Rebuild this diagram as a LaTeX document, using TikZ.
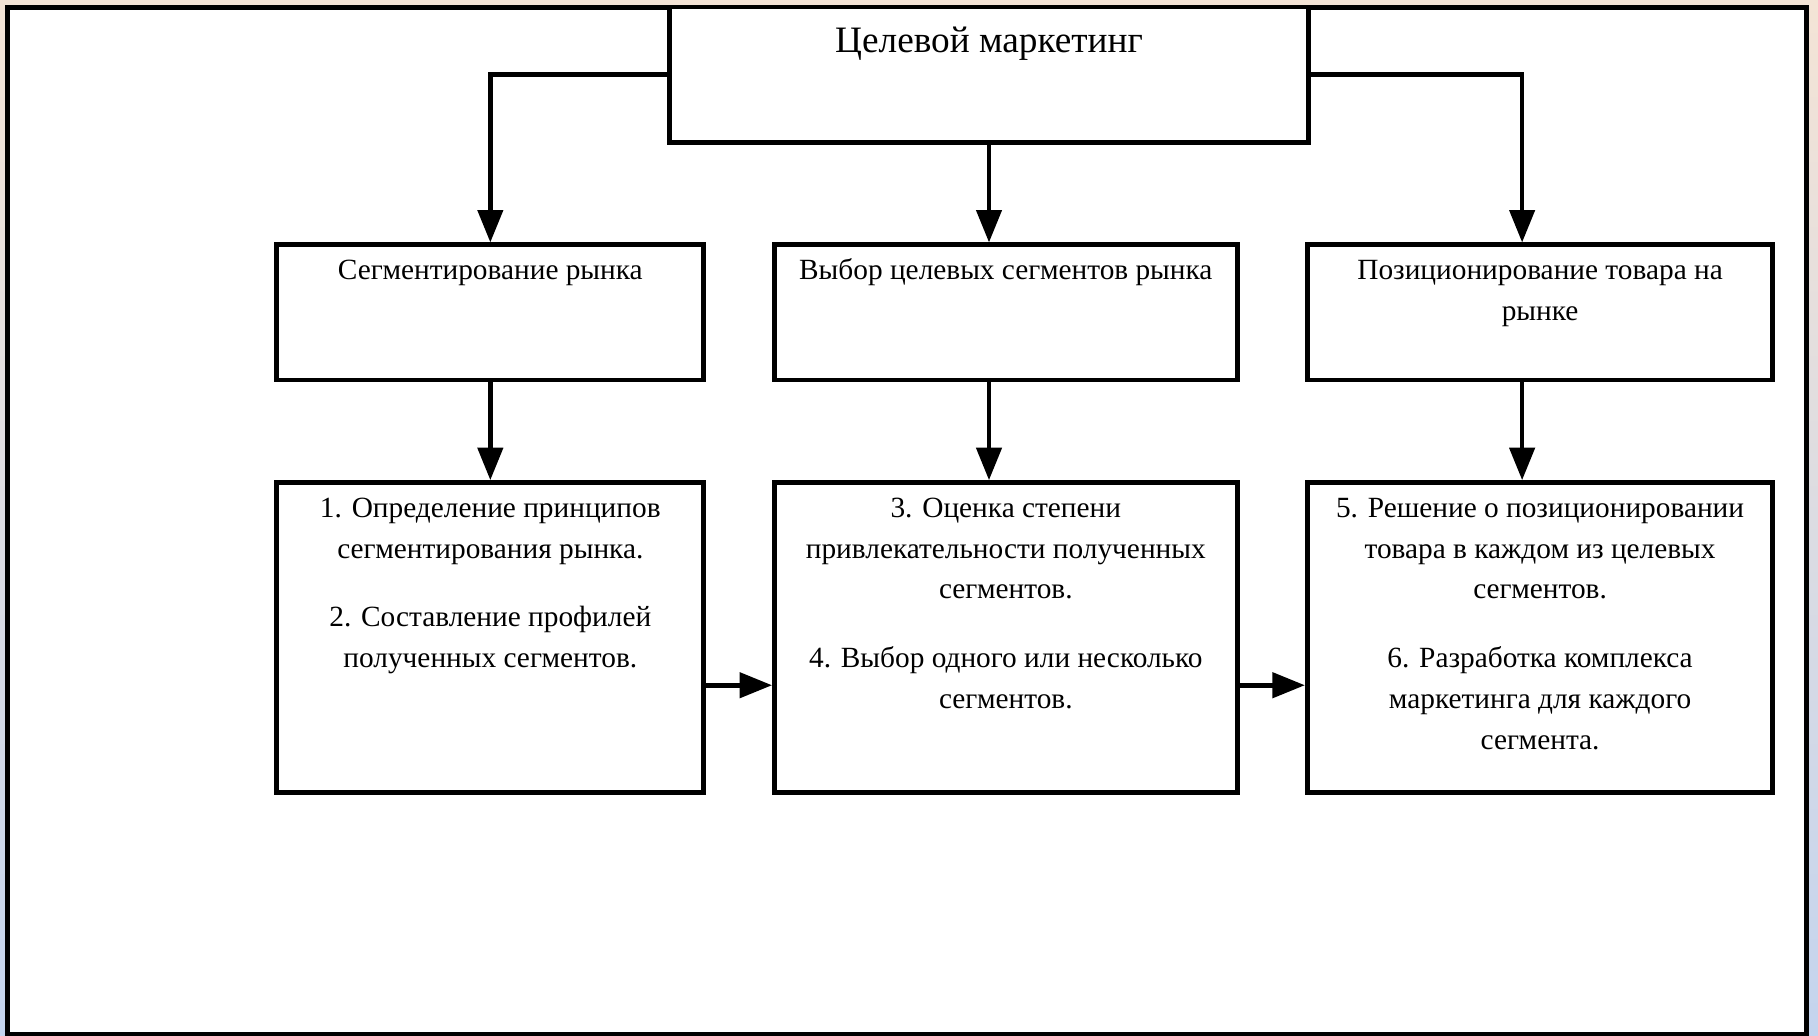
\documentclass[tikz,border=0pt]{standalone}
\usepackage{fontspec}
\setmainfont{Liberation Serif}
\usetikzlibrary{arrows.meta,positioning}
\definecolor{peach}{RGB}{244,228,214}
\definecolor{pale}{RGB}{196,212,238}

\begin{document}
\begin{tikzpicture}[x=0.02cm, y=-0.02cm,
	blk/.style={draw, line width=0.085cm, fill=white, inner sep=0pt},
	txt/.style={inner sep=0pt, align=center, font=\fontsize{14.4}{20.1}\selectfont},
	arr/.style={line width=0.08cm, -{Triangle[length=0.56cm,width=0.43cm]}}]

		\newcommand{\mkblock}[6]{
			%cadre
			\node[blk, minimum width=#4, minimum height=#5] (#1) at (#2,#3) {};
			%texte
			\node[txt, anchor=north] (#1-t) at ([yshift=-0.135cm]#1.north) {\strut #6};
		}

		%fond
		\useasboundingbox (0,0) rectangle (1568,892.7);
		\shade[top color=peach, bottom color=pale] (0,0) rectangle (1568,892.7);
		\draw[line width=0.086cm, fill=white] (6.5,6.5) rectangle (1558,892);

		%haut
		\node[blk, minimum width=11.04cm, minimum height=2.34cm] (tm) at (853,64.5) {};
		\node[txt, anchor=base, font=\fontsize{18.3}{22}\selectfont] (tm-t) at ([yshift=-0.83cm]tm.north) {Целевой маркетинг};

		\mkblock{seg}{422.9}{269.5}{7.37cm}{2.33cm}{Сегментирование рынка}
		\mkblock{sel}{867.5}{269.5}{7.98cm}{2.33cm}{Выбор целевых сегментов рынка}
		\mkblock{pos}{1328.3}{269.5}{8.03cm}{2.33cm}{Позиционирование товара на\\ рынке}

		\mkblock{seg2}{422.9}{550}{7.37cm}{5.35cm}{1. Определение принципов\\ сегментирования рынка.\\[0.47cm] 2. Составление профилей\\ полученных сегментов.}
		\mkblock{sel2}{867.5}{550}{7.98cm}{5.35cm}{3. Оценка степени\\ привлекательности полученных\\ сегментов.\\[0.47cm] 4. Выбор одного или несколько\\ сегментов.}
		\mkblock{pos2}{1328.3}{550}{8.03cm}{5.35cm}{5. Решение о позиционировании\\ товара в каждом из целевых\\ сегментов.\\[0.47cm] 6. Разработка комплекса\\ маркетинга для каждого\\ сегмента.}

		%fleches
		\draw[arr] (tm.west) -| (seg.north);
		\draw[arr] (tm.south) -- (tm.south |- sel.north);
		\draw[arr] (tm.east) -| ([xshift=-0.31cm]pos.north);

		\draw[arr] (seg.south) -- (seg2.north);
		\draw[arr] (sel.south -| tm.south) -- (sel2.north -| tm.south);
		\draw[arr] ([xshift=-0.31cm]pos.south) -- ([xshift=-0.31cm]pos2.north);

		\draw[arr] ([yshift=-0.82cm]seg2.east) -- ([yshift=-0.82cm]sel2.west);
		\draw[arr] ([yshift=-0.82cm]sel2.east) -- ([yshift=-0.82cm]pos2.west);

\end{tikzpicture}
\end{document}
